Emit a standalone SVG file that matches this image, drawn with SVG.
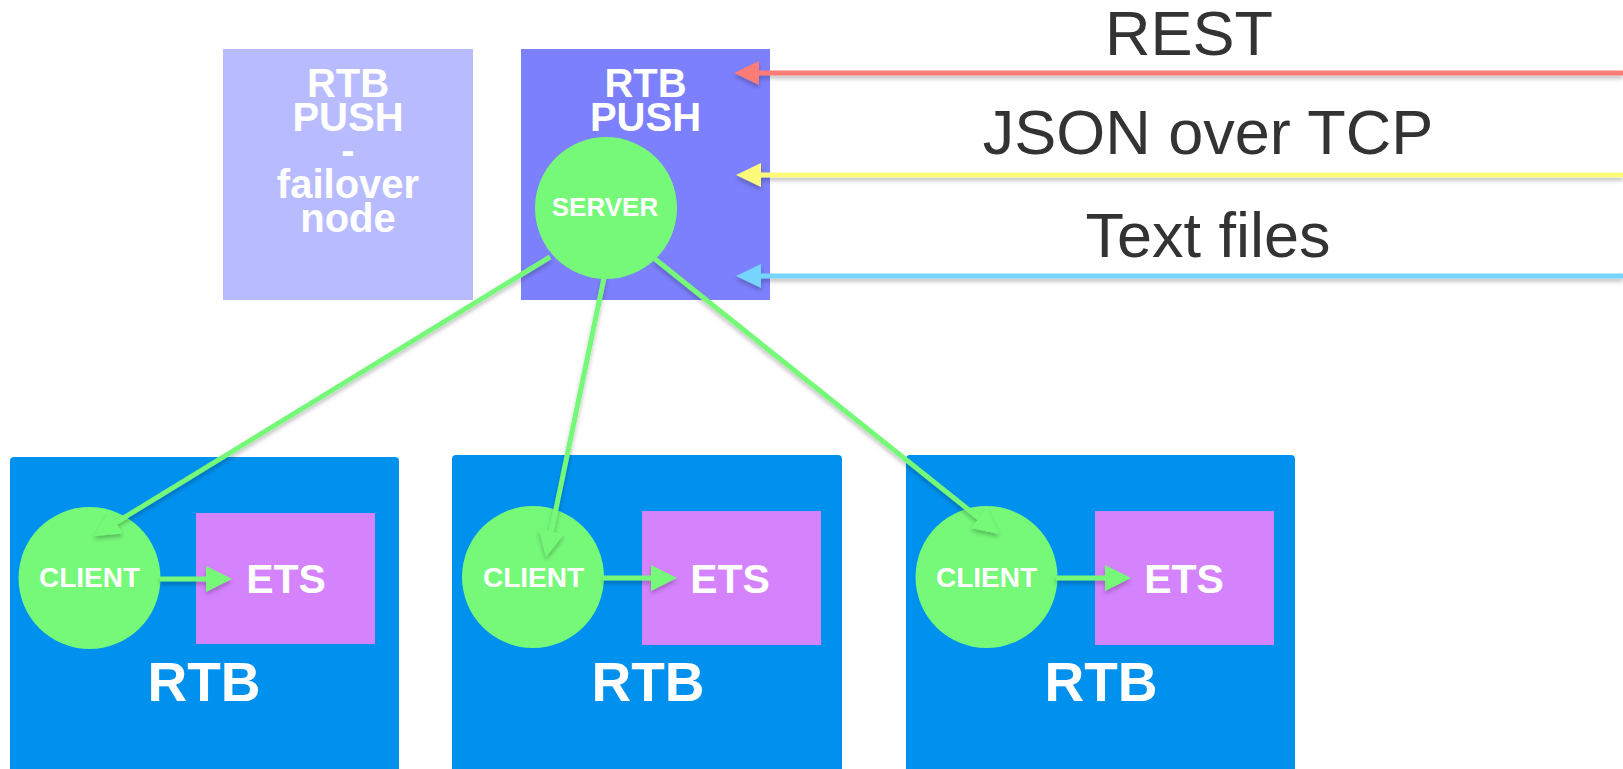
<svg xmlns="http://www.w3.org/2000/svg" width="1623" height="769" viewBox="0 0 1623 769">
<style>
.wt{fill:#ffffff;font-family:"Liberation Sans",Arial,sans-serif;font-weight:bold;text-anchor:middle}
.lbl{fill:#333333;font-family:"Liberation Sans",Arial,sans-serif;font-size:63px;text-anchor:middle}
.rtb{fill:#0091ee}
.ets{fill:#d583fd}
.circ{fill:#76f979}
.g{stroke:#76f979;stroke-width:5;fill:none}
.h{stroke-width:5;fill:none}
</style>
<defs>
<filter id="sh" x="-10%" y="-10%" width="120%" height="140%">
<feDropShadow dx="0" dy="3" stdDeviation="2" flood-color="#000" flood-opacity="0.25"/>
</filter>
<marker id="ag" markerUnits="userSpaceOnUse" markerWidth="26" markerHeight="26" refX="0" refY="13" orient="auto"><path d="M0,0 L26,13 L0,26 z" fill="#76f979"/></marker>
<marker id="ar" markerUnits="userSpaceOnUse" markerWidth="25" markerHeight="24" refX="0" refY="12" orient="auto"><path d="M0,0 L25,12 L0,24 z" fill="#fd7b74"/></marker>
<marker id="ay" markerUnits="userSpaceOnUse" markerWidth="25" markerHeight="24" refX="0" refY="12" orient="auto"><path d="M0,0 L25,12 L0,24 z" fill="#fdf97a"/></marker>
<marker id="ab" markerUnits="userSpaceOnUse" markerWidth="25" markerHeight="24" refX="0" refY="12" orient="auto"><path d="M0,0 L25,12 L0,24 z" fill="#76d5fd"/></marker>
</defs>
<rect width="1623" height="769" fill="#ffffff"/>

<g id="failover">
<rect x="223" y="49" width="250" height="251" fill="#b8bcfe"/>
<text class="wt" font-size="40" x="348" y="97">RTB</text>
<text class="wt" font-size="40" x="348" y="131">PUSH</text>
<text class="wt" font-size="40" x="348" y="164">-</text>
<text class="wt" font-size="40" x="348" y="198">failover</text>
<text class="wt" font-size="40" x="348" y="232">node</text>
</g>

<g id="push">
<rect x="521" y="49" width="249" height="251" fill="#7c80fc"/>
<text class="wt" font-size="40" x="645.5" y="97">RTB</text>
<text class="wt" font-size="40" x="645.5" y="131">PUSH</text>
</g>

<g id="server">
<circle class="circ" cx="606" cy="208" r="71"/>
<text class="wt" font-size="26" x="605" y="216">SERVER</text>
</g>

<g id="labels">
<text class="lbl" x="1189" y="55">REST</text>
<text class="lbl" x="1208" y="154">JSON over TCP</text>
<text class="lbl" x="1208" y="257">Text files</text>
</g>

<g id="rtb1">
<rect class="rtb" x="10" y="457" width="389" height="330" rx="4"/>
<rect class="ets" x="196" y="513" width="179" height="131"/>
<circle class="circ" cx="89.5" cy="578" r="71"/>
<text class="wt" font-size="28" x="89.5" y="587">CLIENT</text>
<text class="wt" font-size="41" x="286" y="593">ETS</text>
<text class="wt" font-size="55" x="204" y="701">RTB</text>
</g>

<g id="rtb2">
<rect class="rtb" x="452" y="455" width="390" height="330" rx="4"/>
<rect class="ets" x="642" y="511" width="179" height="134"/>
<circle class="circ" cx="533" cy="577" r="71"/>
<text class="wt" font-size="28" x="533.5" y="587">CLIENT</text>
<text class="wt" font-size="41" x="730" y="593">ETS</text>
<text class="wt" font-size="55" x="648" y="701">RTB</text>
</g>

<g id="rtb3">
<rect class="rtb" x="906" y="455" width="389" height="330" rx="4"/>
<rect class="ets" x="1095" y="511" width="179" height="134"/>
<circle class="circ" cx="986.5" cy="577" r="71"/>
<text class="wt" font-size="28" x="986.5" y="587">CLIENT</text>
<text class="wt" font-size="41" x="1184" y="593">ETS</text>
<text class="wt" font-size="55" x="1101" y="701">RTB</text>
</g>

<g id="connectors" filter="url(#sh)">
<line class="h" stroke="#fd7b74" x1="1623" y1="73" x2="759" y2="73" marker-end="url(#ar)"/>
<line class="h" stroke="#fdf97a" x1="1623" y1="175" x2="761" y2="175" marker-end="url(#ay)"/>
<line class="h" stroke="#76d5fd" x1="1623" y1="276" x2="761" y2="276" marker-end="url(#ab)"/>
<line class="g" x1="550" y1="257" x2="116.2" y2="522.4" marker-end="url(#ag)"/>
<line class="g" x1="604" y1="278" x2="551.3" y2="531.5" marker-end="url(#ag)"/>
<line class="g" x1="655" y1="259" x2="978.7" y2="517.8" marker-end="url(#ag)"/>
<line class="g" x1="160" y1="579" x2="206" y2="579" marker-end="url(#ag)"/>
<line class="g" x1="603" y1="578" x2="651" y2="578" marker-end="url(#ag)"/>
<line class="g" x1="1056" y1="578" x2="1105" y2="578" marker-end="url(#ag)"/>
</g>
</svg>
